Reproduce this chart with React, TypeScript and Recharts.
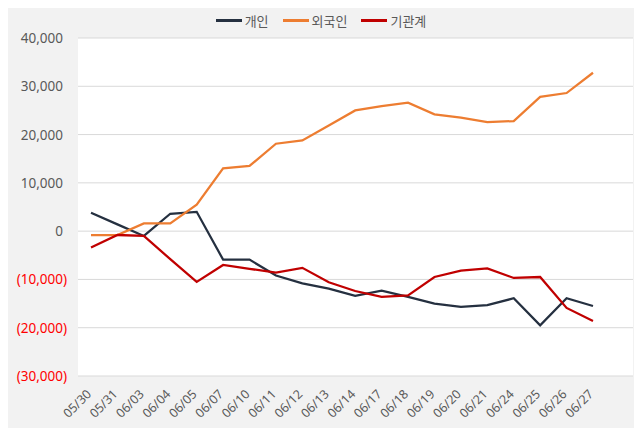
import React from 'react';
import { LineChart, Line, XAxis, YAxis, CartesianGrid, Legend } from 'recharts';

const dates = [
  '05/30', '05/31', '06/03', '06/04', '06/05', '06/07', '06/10', '06/11', '06/12', '06/13',
  '06/14', '06/17', '06/18', '06/19', '06/20', '06/21', '06/24', '06/25', '06/26', '06/27'
];

const individual = [
  3800, 1400, -1000, 3600, 4000, -5900, -5900, -9200, -10800, -11900,
  -13400, -12300, -13600, -15000, -15700, -15300, -13900, -19500, -13900, -15500
];

const foreign = [
  -800, -800, 1600, 1600, 5500, 13000, 13500, 18100, 18800, 21900,
  25000, 25900, 26600, 24200, 23500, 22600, 22800, 27800, 28600, 32800
];

const institution = [
  -3400, -800, -1000, -5800, -10500, -7000, -7800, -8600, -7600, -10600,
  -12400, -13600, -13300, -9500, -8200, -7700, -9700, -9500, -15900, -18600
];

const yTicks = [-30000, -20000, -10000, 0, 10000, 20000, 30000, 40000];

const series = [
  { key: 'individual', name: '개인', color: '#253040' },
  { key: 'foreign', name: '외국인', color: '#ED7D31' },
  { key: 'institution', name: '기관계', color: '#C00000' }
];

const chartData = dates.map((date, i) => ({
  date,
  individual: individual[i],
  foreign: foreign[i],
  institution: institution[i]
}));

const FONT = '"Noto Sans", "Noto Sans CJK KR", sans-serif';

const formatNumber = (v: number) => {
  const s = Math.abs(v).toLocaleString('en-US');
  return v < 0 ? `(${s})` : s;
};

const YTick = ({ x, y, payload }: any) => {
  const v = payload.value as number;
  const neg = v < 0;
  return (
    <text
      x={neg ? x + 3 : x - 1}
      y={y}
      dy={5}
      textAnchor="end"
      fontSize={13.5}
      fontFamily={FONT}
      fill={neg ? '#FF0000' : '#595959'}
    >
      {formatNumber(v)}
    </text>
  );
};

const XTick = ({ x, y, payload }: any) => (
  <g transform={`translate(${x + 1},${y + 11})`}>
    <text
      x={0}
      y={0}
      textAnchor="end"
      fontSize={12.5}
      fontFamily={FONT}
      fill="#595959"
      transform="rotate(-45)"
    >
      {payload.value}
    </text>
  </g>
);

const CustomLegend = () => (
  <div
    style={{
      display: 'flex',
      justifyContent: 'center',
      alignItems: 'center',
      height: 20,
      marginBottom: 8,
      fontFamily: FONT,
      fontSize: 13,
      color: '#595959'
    }}
  >
    {series.map((s) => (
      <div key={s.key} style={{ display: 'flex', alignItems: 'center', margin: '0 7px' }}>
        <div style={{ width: 26, height: 3, background: s.color, marginRight: 3 }} />
        <span>{s.name}</span>
      </div>
    ))}
  </div>
);

const App: React.FC = () => {
  return (
    <div style={{ width: 642, height: 436, background: '#F2F2F2', margin: -8, position: 'relative' }}>
      <LineChart
        width={642}
        height={436}
        data={chartData}
        margin={{ top: 10, right: 9, left: 0, bottom: 5 }}
      >
        <CartesianGrid vertical={false} stroke="#D9D9D9" fill="#FFFFFF" />
        <XAxis
          dataKey="date"
          axisLine={false}
          tickLine={false}
          interval={0}
          height={55}
          padding={{ left: 13, right: 40 }}
          tick={<XTick />}
        />
        <YAxis
          width={78}
          domain={[-30000, 40000]}
          ticks={yTicks}
          axisLine={false}
          tickLine={false}
          tickMargin={8}
          tick={<YTick />}
        />
        <Legend
          verticalAlign="top"
          content={<CustomLegend />}
          wrapperStyle={{ left: 0, width: 642 }}
        />
        {series.map((s) => (
          <Line
            key={s.key}
            type="linear"
            dataKey={s.key}
            name={s.name}
            stroke={s.color}
            strokeWidth={2.25}
            dot={false}
            isAnimationActive={false}
          />
        ))}
      </LineChart>
    </div>
  );
};

export default App;
